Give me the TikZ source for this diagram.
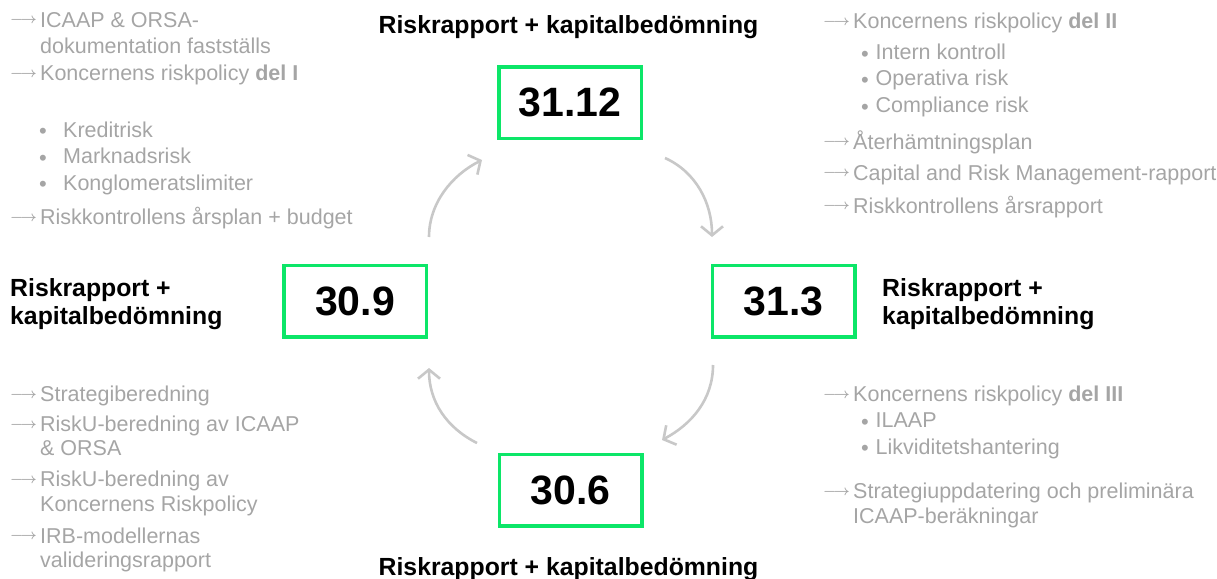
\documentclass[tikz,border=0pt]{standalone}
\usepackage{fontspec}
\setmainfont{Liberation Sans}
\usetikzlibrary{arrows.meta}
\definecolor{boxgreen}{RGB}{12,230,104}
\definecolor{txtgray}{RGB}{165,165,165}
\definecolor{arrgray}{RGB}{200,200,200}
\newcommand\arr{\makebox[30pt][l]{\raisebox{3.5pt}{\fontsize{14.5}{14.5}\selectfont\boldmath$\longrightarrow$}}}
\newcommand\bul{\raisebox{-1.8pt}{\fontsize{22}{22}\selectfont •}}
\newcommand\bitemL[1]{\hspace{-1pt}\makebox[24pt][l]{\bul}#1}
\newcommand\bitemR[1]{\hspace{8pt}\makebox[14.5pt][l]{\bul}#1}
\tikzset{
  title/.style={font=\bfseries\fontsize{24.8}{28}\selectfont, text=black, inner sep=0pt},
  datebox/.style={draw=boxgreen, line width=3.5pt, minimum width=142.5pt, minimum height=71.5pt,
    inner sep=0pt, font=\bfseries\fontsize{41}{41}\selectfont, text=black},
  gtext/.style={text=txtgray, font=\fontsize{21.5}{25}\selectfont, inner sep=0pt, anchor=base west},
  cyc/.style={draw=arrgray, line width=2.6pt, -{Straight Barb[length=9pt,width=22pt]}}
}
\begin{document}
\begin{tikzpicture}[x=1pt,y=-1pt]
\useasboundingbox (0,0) rectangle (1217,578);
% date boxes
\node[datebox] (d1) at (570,102.5) {31.12};
\node[datebox] (d2) at (783.5,301) {31.3};
\node[datebox] (d3) at (570.5,490) {30.6};
\node[datebox] (d4) at (355,301) {30.9};
% titles
\node[title, anchor=base] (t1) at (568.5,33.5) {Riskrapport + kapitalbedömning};
\node[title, anchor=base] (t3) at (568.5,575) {Riskrapport + kapitalbedömning};
\node[title, anchor=base west] (t4) at (10,296) {\begin{tabular}[t]{@{}l@{}}Riskrapport +\\kapitalbedömning\end{tabular}};
\node[title, anchor=base west] (t2) at (882,296) {\begin{tabular}[t]{@{}l@{}}Riskrapport +\\kapitalbedömning\end{tabular}};
% cycle arrows
\coordinate (a1s) at (429,237); \coordinate (a1e) at (482,160);
\coordinate (a2s) at (665,158); \coordinate (a2e) at (712,237);
\coordinate (a3s) at (713,365); \coordinate (a3e) at (662,440);
\coordinate (a4s) at (477,443); \coordinate (a4e) at (429,368);
\draw[cyc] (a1s) .. controls (429,203) and (452,175) .. (a1e);
\draw[cyc] (a2s) .. controls (696,172) and (712,203) .. (a2e);
\draw[cyc] (a3s) .. controls (713,399) and (692,424) .. (a3e);
\draw[cyc] (a4s) .. controls (447,428) and (429,402) .. (a4e);
% text blocks
\node[gtext] (tl) at (10,27.5) {\begin{tabular}[t]{@{}l@{}l@{}}
\arr & ICAAP \& ORSA-\\[1.5pt]
 & dokumentation fastställs\\[2pt]
\arr & Koncernens riskpolicy \textbf{del I}\\[31pt]
 & \bitemL{Kreditrisk}\\[1.5pt]
 & \bitemL{Marknadsrisk}\\[1.5pt]
 & \bitemL{Konglomeratslimiter}\\[9.5pt]
\arr & Riskkontrollens årsplan + budget
\end{tabular}};
\node[gtext] (tr) at (823,29) {\begin{tabular}[t]{@{}l@{}l@{}}
\arr & Koncernens riskpolicy \textbf{del II}\\[6pt]
 & \bitemR{Intern kontroll}\\[1pt]
 & \bitemR{Operativa risk}\\[2pt]
 & \bitemR{Compliance risk}\\[10pt]
\arr & Återhämtningsplan\\[6pt]
\arr & Capital and Risk Management-rapport\\[8pt]
\arr & Riskkontrollens årsrapport
\end{tabular}};
\node[gtext] (bl) at (10,401.5) {\begin{tabular}[t]{@{}l@{}l@{}}
\arr & Strategiberedning\\[5pt]
\arr & RiskU-beredning av ICAAP\\[-1pt]
 & \& ORSA\\[6pt]
\arr & RiskU-beredning av\\[-0.5pt]
 & Koncernens Riskpolicy\\[7pt]
\arr & IRB-modellernas\\[-0.5pt]
 & valideringsrapport
\end{tabular}};
\node[gtext] (br) at (823,401.5) {\begin{tabular}[t]{@{}l@{}l@{}}
\arr & Koncernens riskpolicy \textbf{del III}\\[1pt]
 & \bitemR{ILAAP}\\[1.5pt]
 & \bitemR{Likviditetshantering}\\[19.5pt]
\arr & Strategiuppdatering och preliminära\\[-0.5pt]
 & ICAAP-beräkningar
\end{tabular}};
\end{tikzpicture}
\end{document}
